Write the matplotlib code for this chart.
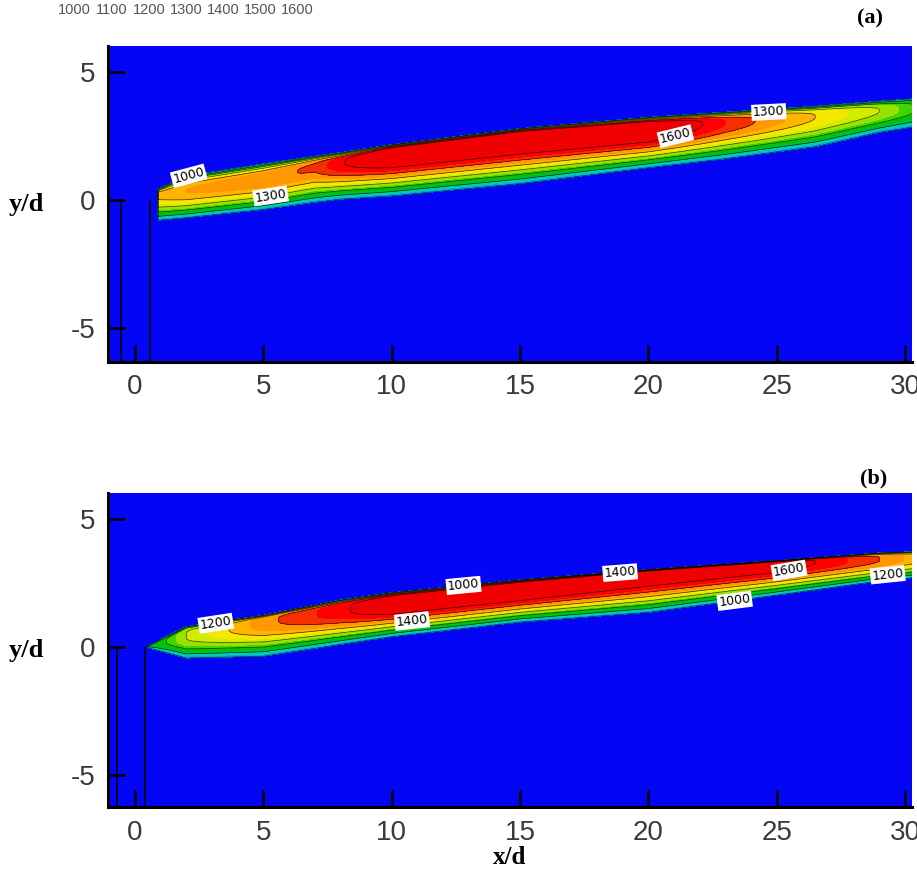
import numpy as np
import matplotlib
matplotlib.use("Agg")
import matplotlib.pyplot as plt

plt.rcParams["axes.unicode_minus"] = False

# ---------------------------------------------------------------------------
# Contour levels and colour legend (temperature, K)
# ---------------------------------------------------------------------------
fill_levels = list(range(1000, 1601, 50))
line_levels = list(range(1000, 1601, 100))
legend_values = [1000, 1100, 1200, 1300, 1400, 1500, 1600]
band_colors = [
    "#0505F5",  # below 1000
    "#00A8DC", "#00CCB0", "#00B850", "#00C400",
    "#40D400", "#96E200", "#D2EC00", "#F5E800",
    "#FFB400", "#FF9800", "#F53000", "#FF0000",
    "#F00000",  # above 1600
]
T_AMBIENT = 300.0

# ---------------------------------------------------------------------------
# Flame stations, case (a): peak position, half-widths above / below, peak T
# ---------------------------------------------------------------------------
xa_station = [0.9, 2.0, 5.0, 7.0, 8.0, 10.0, 15.0, 20.0, 23.0, 26.5, 29.0, 30.5]
xa_center = [0.2, 0.3, 0.72, 1.25, 1.42, 1.85, 2.48, 2.8, 3.0, 3.22, 3.45, 3.55]
xa_half_up = [0.22, 0.62, 0.68, 0.45, 0.42, 0.3, 0.3, 0.42, 0.42, 0.43, 0.4, 0.4]
xa_half_low = [1.0, 1.0, 1.1, 1.35, 1.4, 1.7, 1.85, 1.55, 1.4, 1.15, 0.82, 0.68]
xa_peak = [1420, 1450, 1480, 1510, 1590, 1720, 1740, 1720, 1550, 1400, 1300, 1200]
nozzle_a = [-0.55, 0.58]

# ---------------------------------------------------------------------------
# Flame stations, case (b)
# ---------------------------------------------------------------------------
xb_station = [0.45, 2.0, 5.0, 8.0, 10.0, 15.0, 20.0, 25.0, 29.0, 30.5]
xb_center = [0.0, 0.35, 0.92, 1.35, 1.65, 2.22, 2.8, 3.22, 3.37, 3.42]
xb_half_up = [0.01, 0.45, 0.32, 0.48, 0.47, 0.4, 0.22, 0.15, 0.3, 0.3]
xb_half_low = [0.01, 0.78, 1.28, 1.25, 1.25, 1.25, 1.45, 1.2, 0.8, 0.7]
xb_peak = [1100, 1300, 1480, 1580, 1680, 1700, 1680, 1660, 1500, 1420]
nozzle_b = [-0.7, 0.4]

x_ticks = [0, 5, 10, 15, 20, 25, 30]
y_ticks = [-5, 0, 5]


def temperature_field(X, Y, xs, yc, hu, hl, tpk, p_up, p_lo):
    c = np.interp(X, xs, yc)
    up = np.interp(X, xs, hu)
    lo = np.interp(X, xs, hl)
    pk = np.interp(X, xs, tpk)
    d = Y - c
    h = np.maximum(np.where(d >= 0, up, lo), 1e-3)
    p = np.where(d >= 0, p_up, p_lo)
    k = np.log((pk - T_AMBIENT) / (1000.0 - T_AMBIENT))
    T = T_AMBIENT + (pk - T_AMBIENT) * np.exp(-k * np.abs(d / h) ** p)
    T[X < xs[0]] = T_AMBIENT
    return T


gx = np.linspace(-1.1, 30.5, 900)
gy = np.linspace(-6.5, 6.5, 600)
X, Y = np.meshgrid(gx, gy)

T_a = temperature_field(X, Y, xa_station, xa_center, xa_half_up, xa_half_low,
                        xa_peak, 4.0, 2.0)
T_b = temperature_field(X, Y, xb_station, xb_center, xb_half_up, xb_half_low,
                        xb_peak, 8.0, 2.0)

W, H = 917, 876
fig = plt.figure(figsize=(W / 100, H / 100), dpi=100)
fig.patch.set_facecolor("white")

ax_a = fig.add_axes([108 / W, 1 - 362 / H, 804 / W, 316 / H])
ax_b = fig.add_axes([108 / W, 1 - 807 / H, 804 / W, 314 / H])

label_a = [(1000, (2.1, 0.9)), (1300, (5.3, 0.05)),
           (1600, (21.0, 2.73)), (1300, (24.7, 3.24))]
label_b = [(1200, (3.1, 1.3)), (1000, (12.8, 2.4)), (1400, (10.8, 0.93)),
           (1400, (18.9, 2.87)), (1000, (23.3, 2.3)), (1600, (25.5, 2.87)),
           (1200, (29.3, 3.07))]

panels = [
    (ax_a, T_a, nozzle_a, label_a, (-6.33, 6.0)),
    (ax_b, T_b, nozzle_b, label_b, (-6.23, 6.0)),
]

for ax, T, nozzle, labels, ylim in panels:
    ax.contourf(X, Y, T, levels=fill_levels, colors=band_colors, extend="both")
    # one line set per level, so each label is placed on its own level
    for lev in line_levels:
        cs = ax.contour(X, Y, T, levels=[lev], colors="k",
                        linewidths=0.5, alpha=0.75)
        spots = [pos for l, pos in labels if l == lev]
        if spots and len(cs.allsegs[0]) > 0:
            texts = cs.clabel(manual=spots, fmt="%d", fontsize=9,
                              inline=True, inline_spacing=2, colors="k")
            for t in texts:
                t.set_alpha(1.0)
                t.set_bbox(dict(boxstyle="square,pad=0.12", fc="white",
                                ec="none"))
    ax.vlines(nozzle, ylim[0], 0.0, colors="k", linewidth=1.2)

    ax.set_xlim(-1.05, 30.27)
    ax.set_ylim(*ylim)
    ax.set_xticks(x_ticks)
    ax.set_yticks(y_ticks)
    ax.tick_params(direction="in", length=12, width=1.8, color="k",
                   labelsize=20, labelcolor="#3a3a3a", pad=9)
    for lab in ax.get_xticklabels() + ax.get_yticklabels():
        lab.set_fontfamily("Liberation Sans")
    for side in ("top", "right"):
        ax.spines[side].set_visible(False)
    for side in ("left", "bottom"):
        ax.spines[side].set_linewidth(2.2)
    ax.set_ylabel("y/d", family="Liberation Serif", fontweight="bold",
                  fontsize=19, rotation=0, va="center", labelpad=32)

ax_b.set_xlabel("x/d", family="Liberation Serif", fontweight="bold",
                fontsize=18, labelpad=0)

fig.text(870 / W, 1 - 18 / H, "(a)", family="Liberation Serif",
         fontweight="bold", fontsize=16, ha="center", va="center")
fig.text(874 / W, 1 - 478 / H, "(b)", family="Liberation Serif",
         fontweight="bold", fontsize=16, ha="center", va="center")

for i, v in enumerate(legend_values):
    fig.text((74.5 + i * 37.2) / W, 1 - 10 / H, str(v), family="Liberation Sans",
             fontsize=10.5, color="#555555", ha="center", va="center")

fig.savefig("out.png", dpi=100, facecolor="white")
